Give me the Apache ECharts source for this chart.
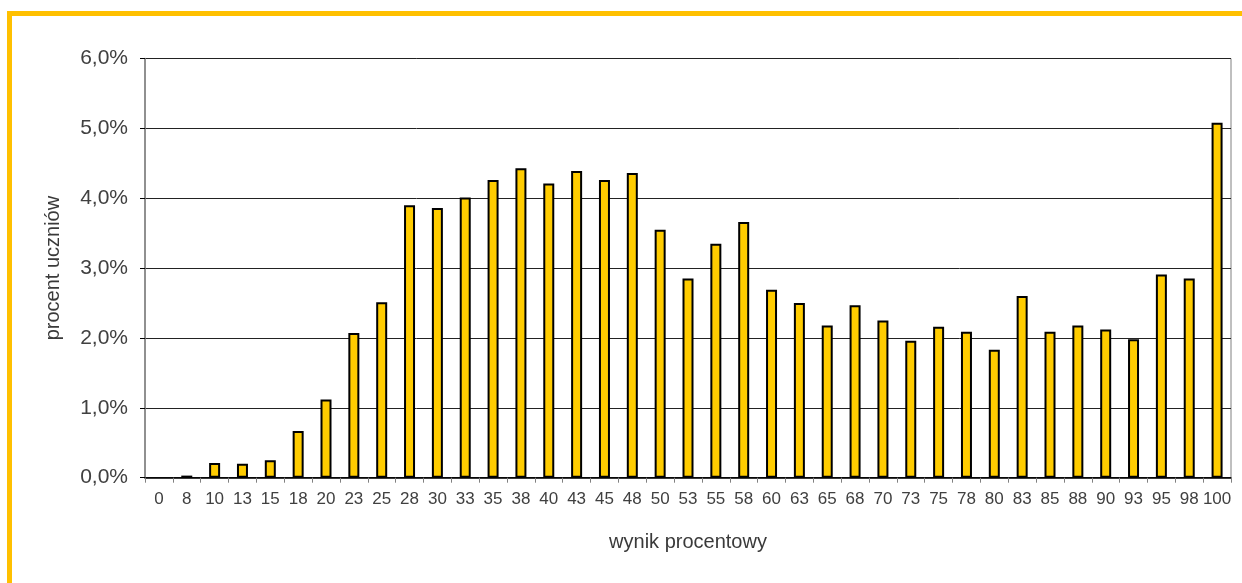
<!DOCTYPE html>
<html>
<head>
<meta charset="utf-8">
<script src="https://cdn.jsdelivr.net/npm/echarts@6/dist/echarts.min.js"></script>
<style>
  html, body { margin: 0; padding: 0; background: #fff; overflow: hidden; }
  #frame { position: absolute; left: 7px; top: 11px; width: 1300px; height: 700px;
           border-top: 5px solid #FFC000; border-left: 5px solid #FFC000; }
  #chart { position: absolute; left: 0; top: 0; width: 1242px; height: 583px; }
</style>
</head>
<body>
<div id="frame"></div>
<div id="chart"></div>
<script>
const categories = ['0','8','10','13','15','18','20','23','25','28','30','33','35','38','40','43','45','48','50','53','55','58','60','63','65','68','70','73','75','78','80','83','85','88','90','93','95','98','100'];
const percentStudents = [0, 0.03, 0.21, 0.20, 0.25, 0.67, 1.12, 2.07, 2.51, 3.90, 3.86, 4.01, 4.26, 4.43, 4.21, 4.39, 4.26, 4.36, 3.55, 2.85, 3.35, 3.66, 2.69, 2.50, 2.18, 2.47, 2.25, 1.96, 2.16, 2.09, 1.83, 2.60, 2.09, 2.18, 2.12, 1.98, 2.91, 2.85, 5.08];
const yTicks = [0, 1, 2, 3, 4, 5, 6];
const xAxisTitle = 'wynik procentowy';
const yAxisTitle = 'procent uczniów';

const chart = echarts.init(document.getElementById('chart'), null, { renderer: 'canvas' });
const font = '"Liberation Sans", Arial, sans-serif';
chart.setOption({
  backgroundColor: 'transparent',
  animation: false,
  grid: { left: 145, right: 11, top: 58.5, bottom: 105.3, show: true, borderColor: '#808080', borderWidth: 1 },
  xAxis: {
    type: 'category',
    data: categories,
    boundaryGap: true,
    name: xAxisTitle,
    nameLocation: 'middle',
    nameGap: 55,
    nameTextStyle: { fontFamily: font, fontSize: 20, color: '#3a3a3a' },
    axisLine: { lineStyle: { color: '#000', width: 1.5 } },
    axisTick: { show: true, alignWithLabel: false, length: 5, lineStyle: { color: '#808080' } },
    axisLabel: { interval: 0, margin: 13, fontFamily: font, fontSize: 17, color: '#404040' }
  },
  yAxis: {
    type: 'value',
    min: yTicks[0],
    max: yTicks[yTicks.length - 1],
    interval: 1,
    name: yAxisTitle,
    nameLocation: 'middle',
    nameGap: 82,
    nameTextStyle: { fontFamily: font, fontSize: 20, color: '#3a3a3a' },
    axisLine: { show: true, lineStyle: { color: '#808080', width: 1.5 } },
    axisTick: { show: true, length: 5, lineStyle: { color: '#000' } },
    axisLabel: { margin: 17, fontFamily: font, fontSize: 21, color: '#404040',
      formatter: v => v.toFixed(1).replace('.', ',') + '%' },
    splitLine: { show: true, lineStyle: { color: '#222', width: 1 } }
  },
  series: [{
    type: 'bar',
    data: percentStudents.map(v => ({ value: v, itemStyle: { borderWidth: v > 0 ? 2 : 0 } })),
    barWidth: 11,
    itemStyle: { color: '#FFCC00', borderColor: '#000', borderWidth: 2 }
  }]
});
</script>
</body>
</html>
